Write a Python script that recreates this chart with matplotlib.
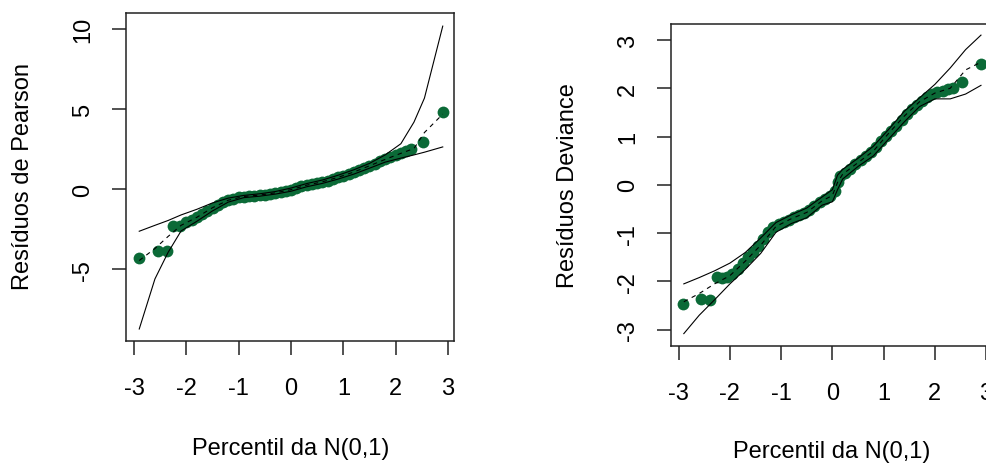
import matplotlib
matplotlib.use("Agg")
import matplotlib.pyplot as plt

plt.rcParams['font.family'] = ['Liberation Sans', 'DejaVu Sans']

W, H = 987, 464

# left panel: Pearson residuals against N(0,1) percentiles
pear_x = [-2.90, -2.55, -2.37, -2.25, -2.12, -2.00, -1.90, -1.80, -1.70, -1.60,
          -1.50, -1.40, -1.30, -1.20, -1.10, -1.00, -0.90, -0.80, -0.70, -0.60,
          -0.50, -0.40, -0.30, -0.20, -0.10, 0.00, 0.10, 0.20, 0.30, 0.40,
          0.50, 0.60, 0.70, 0.80, 0.90, 1.00, 1.10, 1.20, 1.30, 1.40,
          1.50, 1.60, 1.70, 1.80, 1.90, 2.00, 2.10, 2.20, 2.30, 2.53, 2.90]
pear_y = [-4.31, -3.84, -3.84, -2.27, -2.32, -2.05, -1.90, -1.72, -1.55, -1.35,
          -1.15, -0.98, -0.82, -0.68, -0.58, -0.50, -0.45, -0.42, -0.39, -0.36,
          -0.33, -0.28, -0.22, -0.15, -0.08, -0.02, 0.08, 0.18, 0.26, 0.33,
          0.40, 0.47, 0.55, 0.65, 0.75, 0.86, 0.97, 1.08, 1.20, 1.33,
          1.47, 1.60, 1.74, 1.87, 2.00, 2.12, 2.25, 2.38, 2.50, 2.96, 4.81]
pear_env_x = [-2.9, -2.6, -2.35, -2.1, -1.8, -1.5, -1.2, -0.9, -0.6, -0.3, 0.0,
              0.3, 0.6, 0.9, 1.2, 1.5, 1.8, 2.1, 2.35, 2.55, 2.9]
pear_low = [-8.73, -5.6, -3.95, -2.6, -2.0, -1.35, -0.8, -0.52, -0.43, -0.3, -0.12,
            0.16, 0.37, 0.64, 0.95, 1.32, 1.7, 1.95, 2.15, 2.32, 2.65]
pear_med = [-4.45, -3.7, -2.95, -2.25, -1.75, -1.15, -0.68, -0.45, -0.36, -0.22, -0.02,
            0.26, 0.47, 0.75, 1.08, 1.47, 1.87, 2.25, 2.55, 3.55, 4.7]
pear_upp = [-2.62, -2.25, -1.95, -1.6, -1.25, -0.85, -0.55, -0.38, -0.28, -0.14, 0.08,
            0.36, 0.58, 0.88, 1.22, 1.62, 2.15, 2.85, 4.2, 5.7, 10.2]

# right panel: deviance residuals
dev_x = [-2.91, -2.56, -2.38, -2.26, -2.15, -2.05, -1.95, -1.85, -1.75, -1.65,
         -1.55, -1.45, -1.35, -1.25, -1.15, -1.05, -0.95, -0.85, -0.75, -0.65,
         -0.55, -0.45, -0.35, -0.25, -0.15, -0.05, 0.05, 0.10, 0.15, 0.25,
         0.35, 0.45, 0.55, 0.65, 0.75, 0.85, 0.95, 1.05, 1.15, 1.25,
         1.35, 1.45, 1.55, 1.65, 1.75, 1.85, 1.95, 2.05, 2.15, 2.25,
         2.35, 2.53, 2.90]
dev_y = [-2.46, -2.36, -2.38, -1.91, -1.92, -1.90, -1.85, -1.75, -1.62, -1.50,
         -1.40, -1.27, -1.12, -0.98, -0.88, -0.82, -0.77, -0.72, -0.67, -0.63,
         -0.59, -0.52, -0.43, -0.36, -0.30, -0.24, -0.12, 0.05, 0.18, 0.25,
         0.33, 0.43, 0.52, 0.60, 0.68, 0.78, 0.90, 1.02, 1.12, 1.22,
         1.35, 1.47, 1.58, 1.65, 1.73, 1.82, 1.88, 1.92, 1.95, 1.98,
         2.01, 2.13, 2.51]
dev_env_x = [-2.9, -2.6, -2.3, -2.0, -1.7, -1.4, -1.1, -0.8, -0.5, -0.2, 0.0, 0.1,
             0.2, 0.5, 0.8, 1.1, 1.4, 1.7, 2.0, 2.3, 2.6, 2.9]
dev_low = [-3.08, -2.7, -2.38, -2.05, -1.75, -1.42, -0.98, -0.80, -0.68, -0.42, -0.35, -0.1,
           0.12, 0.38, 0.60, 0.95, 1.30, 1.62, 1.78, 1.78, 1.88, 2.06]
dev_med = [-2.42, -2.25, -2.05, -1.88, -1.58, -1.25, -0.86, -0.70, -0.57, -0.33, -0.22, 0.05,
           0.22, 0.46, 0.70, 1.07, 1.42, 1.72, 1.90, 2.0, 2.38, 2.54]
dev_upp = [-2.05, -1.92, -1.78, -1.62, -1.40, -1.1, -0.78, -0.62, -0.48, -0.25, -0.1, 0.2,
           0.32, 0.55, 0.8, 1.15, 1.52, 1.80, 2.08, 2.42, 2.8, 3.1]

xticks = [-3, -2, -1, 0, 1, 2, 3]
pear_yticks = [-5, 0, 5, 10]
dev_yticks = [-3, -2, -1, 0, 1, 2, 3]

green = '#0b6a37'


def box(l, t, r, b):
    return [l / W, 1 - b / H, (r - l) / W, (b - t) / H]


def panel(fig, rect, px, py, ex, lo, me, up, xlim, ylim, yticks):
    ax = fig.add_axes(rect)
    ax.plot(px, py, 'o', color=green, ms=8.5, mew=0, zorder=2)
    ax.plot(ex, lo, '-', color='black', lw=0.8, zorder=3)
    ax.plot(ex, up, '-', color='black', lw=0.8, zorder=3)
    ax.plot(ex, me, '--', color='black', lw=0.8, dashes=(4, 4), zorder=3)
    ax.set_xlim(xlim)
    ax.set_ylim(ylim)
    ax.set_xticks(xticks)
    ax.set_yticks(yticks)
    ax.set_xticklabels([str(t) for t in xticks])
    ax.set_yticklabels([str(t) for t in yticks], rotation=90, va='center')
    ax.tick_params(length=10, width=1.1, labelsize=17, color='#222222', pad=13)
    ax.tick_params(axis='x', pad=16)
    for s in ax.spines.values():
        s.set_color('#222222')
        s.set_linewidth(1.1)
    return ax


fig = plt.figure(figsize=(W / 100, H / 100), dpi=100)

panel(fig, box(126, 14, 454, 342), pear_x, pear_y, pear_env_x, pear_low, pear_med, pear_upp,
      (-3.153, 3.115), (-9.48, 11.02), pear_yticks)
panel(fig, box(670.7, 25, 992, 346.7), dev_x, dev_y, dev_env_x, dev_low, dev_med, dev_upp,
      (-3.156, 3.115), (-3.33, 3.33), dev_yticks)

fig.text(23 / W, 1 - 177 / H, 'Resíduos de Pearson', rotation=90, ha='center', va='center', fontsize=17)
fig.text(290.5 / W, 1 - 449 / H, 'Percentil da N(0,1)', ha='center', va='center', fontsize=17)
fig.text(568 / W, 1 - 186 / H, 'Resíduos Deviance', rotation=90, ha='center', va='center', fontsize=17)
fig.text(831.7 / W, 1 - 452 / H, 'Percentil da N(0,1)', ha='center', va='center', fontsize=17)

fig.savefig('out.png', dpi=100)
